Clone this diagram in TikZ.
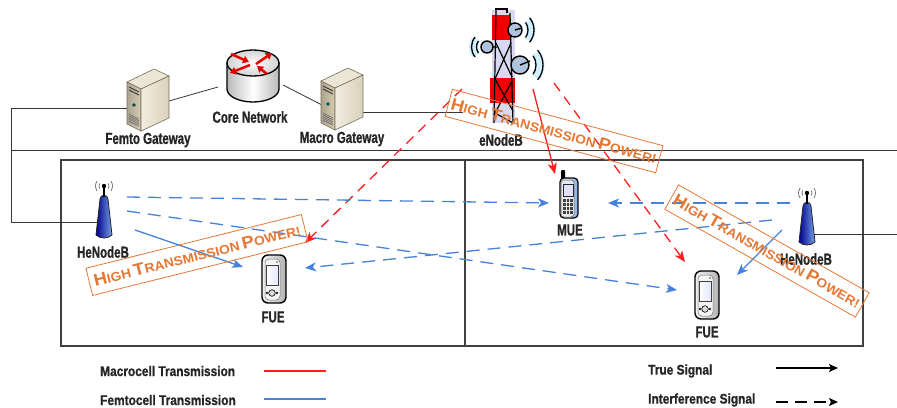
\documentclass[tikz,border=0pt]{standalone}
\usepackage{fontspec}
\setmainfont{Liberation Sans}
\newfontfamily\lblfont{Liberation Sans}[FakeStretch=0.72,BoldFeatures={FakeBold=1}]
\newfontfamily\legfont{Liberation Sans}[FakeStretch=0.85,BoldFeatures={FakeBold=0.8}]
\newfontfamily\hpfont{Liberation Sans}[FakeStretch=1.08]
\usetikzlibrary{arrows.meta,calc}

\definecolor{macroRed}{RGB}{255,30,30}
\definecolor{femtoBlue}{RGB}{70,130,220}
\definecolor{hpOrange}{RGB}{228,120,52}
\definecolor{wireGray}{RGB}{55,55,55}
\definecolor{srvTop}{RGB}{236,230,212}
\definecolor{srvFront}{RGB}{214,204,178}
\definecolor{srvSide}{RGB}{242,237,224}
\definecolor{srvEdge}{RGB}{120,110,90}
\definecolor{towerBody}{RGB}{216,216,240}
\definecolor{dishFill}{RGB}{175,196,220}

% "High Transmission Power!" in hand-made small capitals
\newcommand{\hpLarge}[1]{{\fontsize{17}{17}\selectfont #1}}
\newcommand{\hpSmall}[1]{{\fontsize{12.8}{12.8}\selectfont #1}}
\newcommand{\hipow}{\hpLarge{H}\hpSmall{IGH} \hpLarge{T}\hpSmall{RANSMISSION} \hpLarge{P}\hpSmall{OWER!}}

\tikzset{
  wire/.style={draw=wireGray, line width=0.8pt},
  icon/.style={inner sep=0pt, outer sep=0pt},
  lbl/.style={font=\lblfont\bfseries\fontsize{16}{16}\selectfont, text=black!85, inner sep=0pt},
  legtxt/.style={font=\legfont\bfseries\fontsize{14}{14}\selectfont, text=black!85, anchor=west, inner sep=0pt},
  macrosig/.style={draw=macroRed, line width=1.3pt},
  femtosig/.style={draw=femtoBlue, line width=1.3pt},
  sigtip/.style={-{Stealth[length=11pt,width=9pt,inset=3pt]}},
  intf/.style={dash pattern=on 13pt off 8pt},
  rintf/.style={dash pattern=on 10pt off 7pt},
  hipower/.style={draw=hpOrange, line width=0.8pt, text=hpOrange, minimum height=28pt,
    inner sep=0pt, font=\hpfont\bfseries},
  % beige tower server
  server/.pic={
    \path[fill=srvTop, draw=srvEdge, line width=0.6pt]
      (-21,-18) -- (6,-31) -- (21,-24) -- (-7,-11) -- cycle;
    \path[left color=srvFront!80!black, right color=srvFront, draw=srvEdge, line width=0.6pt]
      (-21,-18) -- (-7,-11) -- (-7,31) -- (-21,24) -- cycle;
    \path[left color=srvSide, right color=srvFront!90, draw=srvEdge, line width=0.6pt]
      (-7,-11) -- (21,-24) -- (21,18) -- (-7,31) -- cycle;
    \draw[black!75, line width=0.9pt] (-19,-13) -- (-9,-8) (-19,-10) -- (-9,-5);
    \fill[teal!60!black] (-14,5) circle (1.8);
    \foreach \k in {0,...,4}
      \draw[black!60, line width=0.6pt] (-19,14+1.8*\k) -- (-9,19+1.8*\k);
  },
  % router cylinder with crossing arrows
  router/.pic={
    \path[left color=gray!55, right color=gray!55, middle color=white, draw=black, line width=1.3pt]
      (-26,0) -- (-26,26) arc[start angle=180, end angle=0, x radius=26, y radius=13] -- (26,0) -- cycle;
    \path[inner color=white, outer color=gray!35, draw=black, line width=1.3pt]
      (0,0) ellipse [x radius=26, y radius=13];
    \begin{scope}[red!90!black, line width=2.5pt, -{Triangle[length=6pt,width=7.5pt]}]
      \draw (-22,-9) -- (-4,-1);
      \draw (3,1) -- (19,-10);
      \draw (-3,2) -- (-23,10);
      \draw (14,11) -- (4,3);
    \end{scope}
  },
  % home base station antenna
  henbicon/.pic={
    \path[left color=blue!55!black, right color=femtoBlue!75!white, draw=black!85, line width=0.8pt]
      (-4,-12) .. controls (-4,-17) and (4,-17) .. (4,-12) -- (8,24)
      .. controls (4,28) and (-4,28) .. (-8,24) -- cycle;
    \draw[black, line width=1.1pt] (0,-14) -- (0,-25);
    \fill[black] (0,-25) circle (2.2);
    \draw[black!60, line width=0.7pt]
      ([shift={(150:5)}]0,-25) arc[start angle=150, end angle=210, radius=5]
      ([shift={(-30:5)}]0,-25) arc[start angle=-30, end angle=30, radius=5]
      ([shift={(145:8.5)}]0,-25) arc[start angle=145, end angle=215, radius=8.5]
      ([shift={(-35:8.5)}]0,-25) arc[start angle=-35, end angle=35, radius=8.5];
  },
  % smartphone
  fueicon/.pic={
    \path[left color=gray!10, right color=gray!60, draw=black, line width=1.4pt, rounded corners=6]
      (-12,-24) rectangle (12,24);
    \path[fill=gray!8, draw=black!55, line width=0.5pt, rounded corners=4]
      (-9,-20) rectangle (6,21);
    \path[left color=white, right color=blue!10, draw=black!75, line width=0.6pt]
      (-8,-14) rectangle (4,6);
    \fill[black!70] (3,-17) circle (0.9);
    \draw[fill=gray!30, line width=0.6pt] (-2,14) circle (3.3);
    \draw[line width=0.5pt] (-7,14) circle (1.1) (3,14) circle (1.1);
  },
  % classic handset
  mueicon/.pic={
    \path[fill=black, rounded corners=1] (-8,-28) rectangle (-4,-18);
    \path[left color=gray!10, right color=femtoBlue!65, draw=black, line width=1.2pt, rounded corners=4]
      (-9,-20) rectangle (9,20);
    \path[fill=gray!18, draw=black!60, line width=0.5pt, rounded corners=3]
      (-8,-18) rectangle (5,19);
    \path[fill=blue!12, draw=black!85, line width=0.6pt] (-6,-14) rectangle (4,-2);
    \foreach \i in {0,1,2}
      \foreach \j in {0,...,3}
        \fill[black!75] (-6+3.6*\i,1+4*\j) rectangle ++(2.6,2.8);
  },
  % macro base station tower with dishes
  enbicon/.pic={
    \begin{scope}[cyan!18, line width=9pt]
      \draw ([shift={(-38:16)}]12,-35) arc[start angle=-38, end angle=38, radius=16];
      \draw ([shift={(-38:20)}]17,0) arc[start angle=-38, end angle=38, radius=20];
      \draw ([shift={(142:13.5)}]-16,-18) arc[start angle=142, end angle=218, radius=13.5];
    \end{scope}
    \fill[towerBody] (-11,-55) rectangle (12,58);
    \fill[red!95!black] (-11,-50) rectangle (7,-25);
    \fill[red!95!black] (-13,13) rectangle (12,38);
    \begin{scope}[black, line width=1.2pt]
      \draw (-7,-55) -- (-9,58) (7,-52) -- (10,58);
      \draw (-7,-22) -- (9,12) (8,-22) -- (-8,14);
      \draw (-8,14) -- (10,46) (9,16) -- (-9,50);
      \draw (-8,48) -- (10,58);
      \draw (-8,-56) -- (4,-56) -- (4,-52);
    \end{scope}
    \draw[black, line width=1.3pt] (-16,-18) -- (-6,-18) (12,-35) -- (7,-30) (17,0) -- (8,-2);
    \path[fill=dishFill, draw=black, line width=1.4pt] (12,-35) circle (7);
    \path[fill=dishFill, draw=black, line width=1.4pt] (17,0) circle (9);
    \path[fill=dishFill, draw=black, line width=1.4pt] (-16,-18) circle (6);
    \draw[black, line width=1.4pt] (12,-35) -- (19,-37) (17,0) -- (27,-4);
    \begin{scope}[black, line width=1.3pt]
      \draw ([shift={(-35:13)}]12,-35) arc[start angle=-35, end angle=35, radius=13];
      \draw ([shift={(-40:19)}]12,-35) arc[start angle=-40, end angle=40, radius=19];
      \draw ([shift={(-35:16)}]17,0) arc[start angle=-35, end angle=35, radius=16];
      \draw ([shift={(-40:23)}]17,0) arc[start angle=-40, end angle=40, radius=23];
      \draw ([shift={(145:10.5)}]-16,-18) arc[start angle=145, end angle=215, radius=10.5];
      \draw ([shift={(140:15.5)}]-16,-18) arc[start angle=140, end angle=220, radius=15.5];
    \end{scope}
  }
}

\begin{document}
\begin{tikzpicture}[x=1pt, y=-1pt]
\path[use as bounding box, fill=white] (0,0) rectangle (897,407);

% coverage areas of the two cells
\draw[black!75, line width=1.3pt] (61,160) rectangle (465,346);
\draw[black!75, line width=1.3pt] (465,160) rectangle (863,346);

% equipment placeholders
\node[icon, minimum width=42, minimum height=62] (femtoGW) at (148,100) {};
\node[icon, minimum width=54, minimum height=54] (core) at (253,77) {};
\node[icon, minimum width=42, minimum height=62] (macroGW) at (342,99) {};
\node[icon, minimum width=80, minimum height=118] (enb) at (503,65) {};
\node[icon, minimum width=18, minimum height=56] (henbL) at (104,211) {};
\node[icon, minimum width=18, minimum height=56] (henbR) at (807,218) {};
\node[icon, minimum width=26, minimum height=48] (fueL) at (274,279) {};
\node[icon, minimum width=26, minimum height=48] (fueR) at (707,295) {};
\node[icon, minimum width=20, minimum height=56] (mue) at (569,198) {};

% backhaul wiring
\coordinate (wLeftTop) at (11,108);
\coordinate (wLeftMid) at (11,150);
\coordinate (wRightMid) at (897,150);
\coordinate (wRightLow) at (897,234);
\draw[wire] ([shift={(-21,8)}]femtoGW.center) -- (wLeftTop) |- ([shift={(-6.5,11)}]henbL.center);
\draw[wire] (wLeftMid) -- (wRightMid);
\draw[wire] ([shift={(7,16)}]henbR.center) -- (wRightLow);
\draw[wire] ([shift={(21,1)}]femtoGW.center) -- ([shift={(-35,10)}]core.center);
\draw[wire] ([shift={(30,8)}]core.center) -- ([shift={(-20,6)}]macroGW.center);
\draw[wire] ([shift={(21,13)}]macroGW.center) -- ([shift={(-40,47)}]enb.center);

% equipment drawings
\pic at (femtoGW.center) {server};
\pic at (macroGW.center) {server};
\pic at ([shift={(0,-14)}]core.center) {router};
\pic at (enb.center) {enbicon};
\pic at (henbL.center) {henbicon};
\pic at (henbR.center) {henbicon};
\pic at (fueL.center) {fueicon};
\pic at (fueR.center) {fueicon};
\pic at (mue.center) {mueicon};

% equipment names
\node[lbl] (tFemto) at (148,140) {Femto Gateway};
\node[lbl] (tCore) at (250,117) {Core Network};
\node[lbl] (tMacro) at (342,139) {Macro Gateway};
\node[lbl] (tEnb) at (501,140) {eNodeB};
\node[lbl] (tHenbL) at (103,252) {HeNodeB};
\node[lbl] (tHenbR) at (806,259) {HeNodeB};
\node[lbl] (tFueL) at (273,317) {FUE};
\node[lbl] (tFueR) at (707,332) {FUE};
\node[lbl] (tMue) at (570,230) {MUE};

% macrocell transmissions
\draw[macrosig, sigtip] ([shift={(30,24)}]enb.center) -- ([shift={(-14,-24)}]mue.center);
\draw[macrosig, rintf, sigtip] ([shift={(51,18)}]enb.center) -- ([shift={(-22,-33)}]fueR.center);
\draw[macrosig, rintf, sigtip] ([shift={(-41,24)}]enb.center) -- ([shift={(31,-36)}]fueL.center);

% femtocell transmissions
\draw[femtosig, sigtip] ([shift={(31,19)}]henbL.center) -- ([shift={(-31,-12)}]fueL.center);
\draw[femtosig, sigtip] ([shift={(-25,12)}]henbR.center) -- ([shift={(30,-20)}]fueR.center);
\draw[femtosig, intf, sigtip] ([shift={(23,-14)}]henbL.center) -- ([shift={(-20,5)}]mue.center);
\draw[femtosig, intf, sigtip] ([shift={(23,0)}]henbL.center) -- ([shift={(-30,-5)}]fueR.center);
\draw[femtosig, intf, sigtip] ([shift={(-17,-15)}]henbR.center) -- ([shift={(39,5)}]mue.center);
\draw[femtosig, intf, sigtip] ([shift={(-35,2)}]henbR.center) -- ([shift={(31,-11)}]fueL.center);

% power warnings
\node[hipower, minimum width=218, rotate=-15] (hpE) at (554,131) {\hipow};
\node[hipower, minimum width=222, rotate=14] (hpL) at (197,255) {\hipow};
\node[hipower, minimum width=219, rotate=-29.5] (hpR) at (767,251) {\hipow};

% legend
\node[legtxt] (legMacro) at (100,371) {Macrocell Transmission};
\node[legtxt] (legFemto) at (100,400) {Femtocell Transmission};
\node[legtxt] (legTrue) at (648,371) {True Signal};
\node[legtxt] (legIntf) at (648,400) {Interference Signal};
\coordinate (kMacroA) at (264,371);
\coordinate (kMacroB) at (326,371);
\coordinate (kFemtoA) at (264,399);
\coordinate (kFemtoB) at (326,399);
\coordinate (kTrueA) at (776,368);
\coordinate (kTrueB) at (838,368);
\coordinate (kIntfA) at (776,402);
\coordinate (kIntfB) at (838,402);
\draw[macrosig, line width=1.6pt] (kMacroA) -- (kMacroB);
\draw[femtosig, line width=1.6pt] (kFemtoA) -- (kFemtoB);
\draw[black, line width=1.4pt, -{Stealth[length=9pt,width=8pt,inset=2pt]}] (kTrueA) -- (kTrueB);
\draw[black, line width=1.4pt, dash pattern=on 12pt off 7pt, -{Stealth[length=9pt,width=8pt,inset=2pt]}] (kIntfA) -- (kIntfB);
\end{tikzpicture}
\end{document}
